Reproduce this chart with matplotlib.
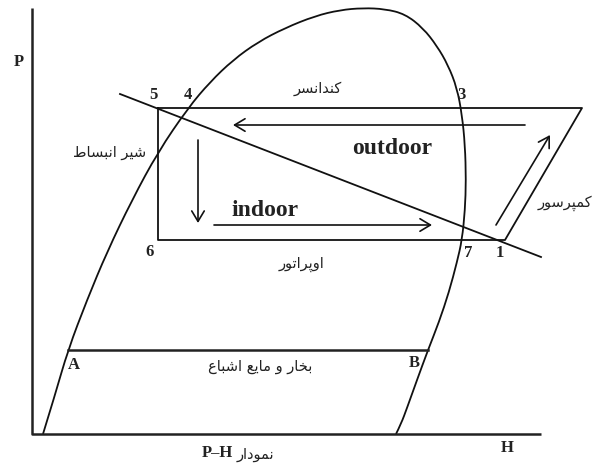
import numpy as np
import matplotlib.pyplot as plt
from matplotlib.path import Path
from matplotlib.patches import PathPatch

# P-H diagram, units: H to the right, P upwards (schematic)
# saturation dome
dome_h = [11, 23, 36, 55, 75, 100, 126, 156, 178, 201, 226, 253, 283, 308, 331,
          353, 373, 391, 405, 416, 425, 430, 433, 434, 433, 430, 425, 417, 407,
          396, 385, 375, 369, 364]
dome_p = [0, 39, 84, 134, 182, 234, 282, 326, 352, 374, 392, 406, 418, 424, 426,
          425, 420, 406, 388, 369, 346, 319, 289, 254, 224, 194, 172, 142, 112,
          84, 54, 26, 10, 0]

# saturated line A-B
ab_h = [36, 396]
ab_p = [84, 84]

# refrigeration cycle 5 -> 3' -> 1 -> 6 -> 5
cyc_h = [126, 550, 473, 126, 126]
cyc_p = [326, 326, 194, 194, 326]

# sloping line
slope_h = [88, 509]
slope_p = [340, 177]

# arrows (start, end)
arrows = [((493, 309), (201, 309)),
          ((166, 294), (166, 211)),
          ((182, 209), (400, 209)),
          ((464, 209), (518, 299))]

# point numbers
pt_labels = ['5', '4', '3', '6', '7', '1', 'A', 'B']
pt_h = [121, 156, 430, 118, 436, 468, 42, 382]
pt_p = [339, 339, 339, 182, 181, 181, 69, 71]

# persian labels
fa_labels = ['کندانسر', 'شیر انبساط', 'کمپرسور', 'اوپراتور',
             'بخار و مایع اشباع', 'نمودار']
fa_h = [286, 78, 560, 269, 228, 223]
fa_p = [346, 282, 231, 170, 68, -21]
fa_ha = ['center', 'center', 'right', 'center', 'center', 'center']

# isolated, final, initial, medial
FORMS = {
    'ک': ('\uFB8E', '\uFB8F', '\uFB90', '\uFB91'),
    'ن': ('\uFEE5', '\uFEE6', '\uFEE7', '\uFEE8'),
    'د': ('\uFEA9', '\uFEAA', '\uFEA9', '\uFEAA'),
    'ا': ('\uFE8D', '\uFE8E', '\uFE8D', '\uFE8E'),
    'س': ('\uFEB1', '\uFEB2', '\uFEB3', '\uFEB4'),
    'ر': ('\uFEAD', '\uFEAE', '\uFEAD', '\uFEAE'),
    'ش': ('\uFEB5', '\uFEB6', '\uFEB7', '\uFEB8'),
    'ی': ('\uFBFC', '\uFBFD', '\uFBFE', '\uFBFF'),
    'ب': ('\uFE8F', '\uFE90', '\uFE91', '\uFE92'),
    'ط': ('\uFEC1', '\uFEC2', '\uFEC3', '\uFEC4'),
    'م': ('\uFEE1', '\uFEE2', '\uFEE3', '\uFEE4'),
    'پ': ('\uFB56', '\uFB57', '\uFB58', '\uFB59'),
    'و': ('\uFEED', '\uFEEE', '\uFEED', '\uFEEE'),
    'ت': ('\uFE95', '\uFE96', '\uFE97', '\uFE98'),
    'خ': ('\uFEA5', '\uFEA6', '\uFEA7', '\uFEA8'),
    'ع': ('\uFEC9', '\uFECA', '\uFECB', '\uFECC'),
}
NO_LEFT = set('ادرو')


def shape(txt):
    # matplotlib has no arabic shaping: pick presentation forms, then reverse
    out = []
    for i, ch in enumerate(txt):
        if ch not in FORMS:
            out.append(ch)
            continue
        prev = txt[i-1] if i > 0 else ''
        nxt = txt[i+1] if i+1 < len(txt) else ''
        jp = prev in FORMS and prev not in NO_LEFT
        jn = nxt in FORMS and ch not in NO_LEFT
        f = FORMS[ch]
        if jp and jn:
            out.append(f[3])
        elif jp:
            out.append(f[1])
        elif jn:
            out.append(f[2])
        else:
            out.append(f[0])
    return ''.join(reversed(out))


fig = plt.figure(figsize=(5.94, 4.68), dpi=100)
ax = fig.add_axes([0, 0, 1, 1])
ax.set_xlim(-32, 562)
ax.set_ylim(-34, 434)
ax.axis('off')

lw = 1.3
ax.plot([0, 0, 509], [426, 0, 0], color='#222', lw=1.8, solid_capstyle='butt')

# smooth dome: read points used as quadratic bezier controls
pts = list(zip(dome_h, dome_p))
verts = [pts[0]]
codes = [Path.MOVETO]
for i in range(1, len(pts) - 1):
    nxt = pts[-1] if i == len(pts) - 2 else \
        ((pts[i][0] + pts[i+1][0]) / 2, (pts[i][1] + pts[i+1][1]) / 2)
    verts += [pts[i], nxt]
    codes += [Path.CURVE3, Path.CURVE3]
ax.add_patch(PathPatch(Path(verts, codes), fill=False, edgecolor='#111', lw=lw))

ax.plot(ab_h, ab_p, color='#222', lw=1.8)
ax.plot(cyc_h, cyc_p, color='#111', lw=lw)
ax.plot(slope_h, slope_p, color='#111', lw=lw)
for s, e in arrows:
    ax.annotate('', xy=e, xytext=s,
                arrowprops=dict(arrowstyle='->,head_length=0.75,head_width=0.45',
                                color='#111', lw=1.2, shrinkA=0, shrinkB=0))

serif = 'Liberation Serif'
for t, h, p in zip(pt_labels, pt_h, pt_p):
    ax.text(h, p, t, fontsize=12, fontweight='bold', family=serif,
            ha='center', va='center', color='#222')
ax.text(-13, 372, 'P', fontsize=12, fontweight='bold', family=serif,
        ha='center', va='center', color='#222')
ax.text(475, -14, 'H', fontsize=12, fontweight='bold', family=serif,
        ha='center', va='center', color='#222')
ax.text(185, -19, 'P–H', fontsize=12, fontweight='bold', family=serif,
        ha='center', va='center', color='#222')
ax.text(360, 286, 'outdoor', fontsize=17, fontweight='bold', family=serif,
        ha='center', va='center', color='#222')
ax.text(233, 224, 'indoor', fontsize=17, fontweight='bold', family=serif,
        ha='center', va='center', color='#222')

for t, h, p, a in zip(fa_labels, fa_h, fa_p, fa_ha):
    ax.text(h, p, shape(t), fontsize=10.5, family='DejaVu Sans',
            ha=a, va='center', color='#222')

fig.savefig('out.png', dpi=100)
